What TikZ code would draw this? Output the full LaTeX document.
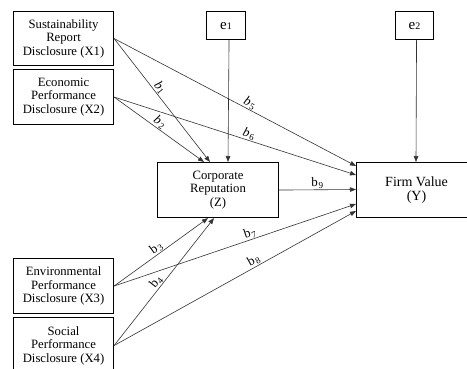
\documentclass[tikz,border=0pt]{standalone}
\usepackage{fontspec}
\setmainfont{Liberation Serif}
\usetikzlibrary{arrows.meta,calc}
\newcommand{\bl}[2]{#1\kern0.8pt\textsubscript{#2}}
\begin{document}
\begin{tikzpicture}[x=1pt,y=-1pt,
 box/.style={draw, line width=1.1pt, align=center, inner sep=0pt, font=\fontsize{12.7}{13.5}\selectfont, anchor=north west},
 conn/.style={line width=0.6pt, draw=black!80, -{Triangle[length=6pt,width=4.5pt]}},
 lab/.style={sloped, above, inner sep=0.6pt, font=\fontsize{13}{13}\selectfont}]
\useasboundingbox (0,0) rectangle (467,369);
\clip (0,0) rectangle (467,369);
\node[box, minimum width=100pt, minimum height=54pt] (X1) at (13,11) {Sustainability\\Report\\Disclosure (X1)};
\node[box, minimum width=100pt, minimum height=55pt] (X2) at (13,69) {Economic\\Performance\\Disclosure (X2)};
\node[box, minimum width=100pt, minimum height=55pt] (X3) at (13,258) {Environmental\\Performance\\Disclosure (X3)};
\node[box, minimum width=100pt, minimum height=56pt] (X4) at (13,317) {Social\\Performance\\Disclosure (X4)};
\node[box, minimum width=39pt, minimum height=28pt] (e1) at (206,11) {\fontsize{15}{15}\selectfont e{\fontsize{10}{10}\selectfont 1}};
\node[box, minimum width=38pt, minimum height=28pt] (e2) at (395,11) {\fontsize{15}{15}\selectfont e{\fontsize{10}{10}\selectfont 2}};
\node[box, minimum width=121pt, minimum height=55pt] (Z) at (157,162) {Corporate\\Reputation\\(Z)};
\node[box, minimum width=120pt, minimum height=55pt, font=\fontsize{14}{14}\selectfont] (Y) at (356,162) {Firm Value\\(Y)};
% inputs to Z
\draw[conn] (X1.east) -- node[lab, pos=0.43] {\bl{\textit{b}}{1}} ($(Z.north west)+(53,0)$);
\draw[conn] (X2.east) -- node[lab, pos=0.47] {\bl{\textit{b}}{2}} ($(Z.north west)+(47,0)$);
\draw[conn] (X3.east) -- node[lab, pos=0.49] {\bl{b}{3}} ($(Z.south west)+(51,0)$);
\draw[conn] (X4.east) -- node[lab, pos=0.47] {\bl{b}{4}} ($(Z.south west)+(57,0)$);
\draw[conn] ($(e1.south)+(3,0)$) -- ($(Z.north west)+(71,0)$);
% inputs to Y
\draw[conn] (X1.east) -- node[lab, pos=0.55] {\bl{\textit{b}}{5}} ($(Y.north west)+(0,4)$);
\draw[conn] (X2.east) -- node[lab, pos=0.55] {\bl{\textit{b}}{6}} ($(Y.north west)+(0,13)$);
\draw[conn] (Z.east) -- node[above, inner sep=1pt, font=\fontsize{13}{13}\selectfont] {\bl{b}{9}} ($(Y.north west)+(0,27.5)$);
\draw[conn] (X3.east) -- node[lab, pos=0.57] {\bl{b}{7}} ($(Y.north west)+(0,42)$);
\draw[conn] (X4.east) -- node[lab, pos=0.59] {\bl{b}{8}} ($(Y.north west)+(0,49)$);
\draw[conn] ($(e2.south)+(2,0)$) -- ($(Y.north west)+(60,0)$);
\end{tikzpicture}
\end{document}
